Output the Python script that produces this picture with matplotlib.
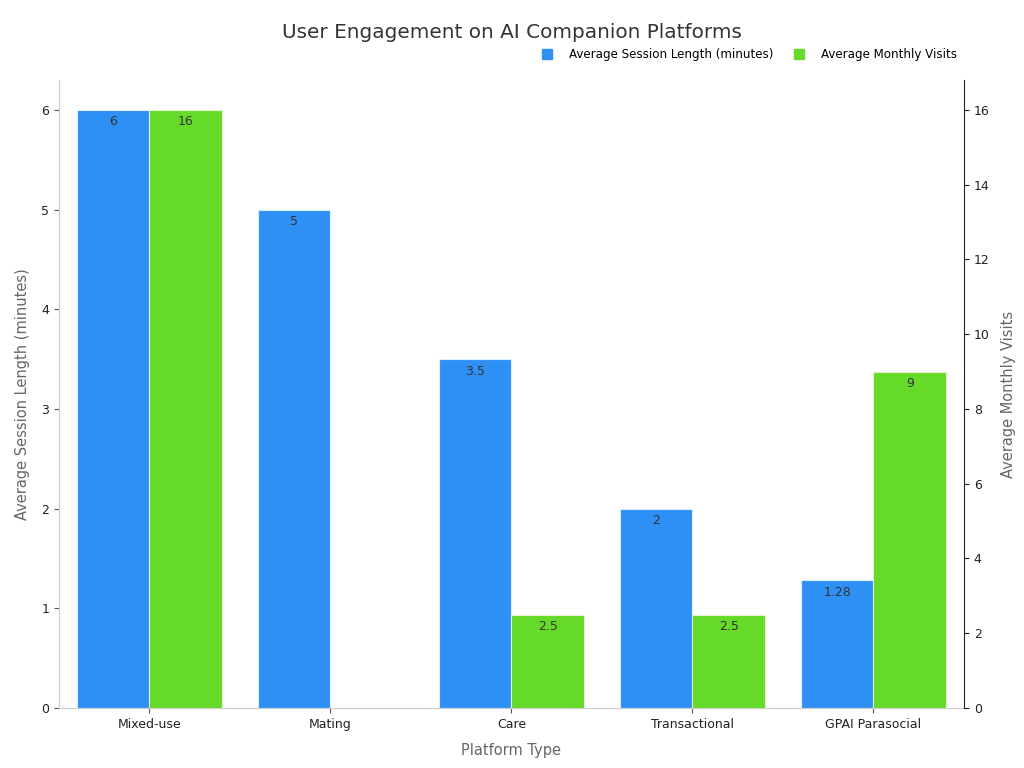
import matplotlib
matplotlib.use("Agg")
import matplotlib.pyplot as plt
import numpy as np
from matplotlib.lines import Line2D

categories = ["Mixed-use", "Mating", "Care", "Transactional", "GPAI Parasocial"]
session_length = [6, 5, 3.5, 2, 1.28]
monthly_visits = [16, None, 2.5, 2.5, 9]
session_labels = ["6", "5", "3.5", "2", "1.28"]
visits_labels = ["16", "", "2.5", "2.5", "9"]

blue = "#2E90F5"
green = "#66DA28"
text_dark = "#333333"
label_gray = "#666666"
spine_gray = "#CCCCCC"

fig = plt.figure(figsize=(10.24, 7.68), dpi=100)
ax = fig.add_axes([0.0576, 0.0781, 0.8838, 0.8177])
ax2 = ax.twinx()

x = np.arange(len(categories))
w = 0.4
b1 = ax.bar(x - w / 2, session_length, width=w, color=blue, edgecolor="#DDEEFF", linewidth=0.8, zorder=2)
vis = [v if v is not None else 0 for v in monthly_visits]
b2 = ax2.bar(x + w / 2, vis, width=w, color=green, edgecolor="#E0F5D0", linewidth=0.8, zorder=2)
for i, v in enumerate(monthly_visits):
    if v is None:
        b2[i].set_visible(False)

ax.set_xlim(-0.5, 4.5)
ax.set_ylim(0, 6.3)
ax2.set_ylim(0, 16.8)
ax.set_yticks([0, 1, 2, 3, 4, 5, 6])
ax2.set_yticks([0, 2, 4, 6, 8, 10, 12, 14, 16])
ax.set_xticks(x)
ax.set_xticklabels(categories)

for rect, lab in zip(b1, session_labels):
    ax.annotate(lab, (rect.get_x() + rect.get_width() / 2, rect.get_height()),
                xytext=(0, -4), textcoords="offset points", ha="center", va="top",
                fontsize=9, color=text_dark)
for rect, lab, v in zip(b2, visits_labels, monthly_visits):
    if v is None:
        continue
    ax2.annotate(lab, (rect.get_x() + rect.get_width() / 2, rect.get_height()),
                 xytext=(0, -4), textcoords="offset points", ha="center", va="top",
                 fontsize=9, color=text_dark)

for a in (ax, ax2):
    a.spines["top"].set_visible(False)
    a.tick_params(labelsize=9, colors="#222222")
ax.spines["left"].set_color(spine_gray)
ax.spines["bottom"].set_color(spine_gray)
ax.spines["right"].set_visible(False)
ax2.spines["left"].set_visible(False)
ax2.spines["bottom"].set_visible(False)
ax2.spines["right"].set_color("#222222")
ax.tick_params(axis="y", color="#555555")
ax.tick_params(axis="x", color="#555555")

ax.set_xlabel("Platform Type", fontsize=10.5, color=label_gray, labelpad=9)
ax.set_ylabel("Average Session Length (minutes)", fontsize=10.5, color=label_gray, labelpad=8)
ax2.set_ylabel("Average Monthly Visits", fontsize=10.5, color=label_gray, labelpad=8)

fig.suptitle("User Engagement on AI Companion Platforms", fontsize=14.4, color="#333333", y=0.97)

handles = [Line2D([0], [0], marker="s", linestyle="none", markersize=7.5, color=blue),
           Line2D([0], [0], marker="s", linestyle="none", markersize=7.5, color=green)]
ax.legend(handles, ["Average Session Length (minutes)", "Average Monthly Visits"],
          loc="lower right", bbox_to_anchor=(1.0, 1.019), ncol=2, frameon=False,
          fontsize=8.6, handletextpad=0.8, columnspacing=1.2, borderaxespad=0.2)

fig.savefig("out.png", dpi=100)
